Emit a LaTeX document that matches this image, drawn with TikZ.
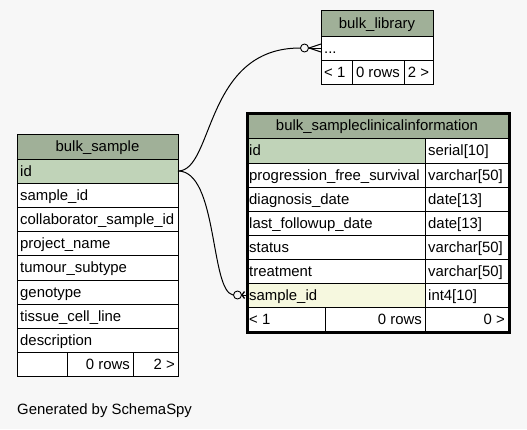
\documentclass[tikz,border=0pt]{standalone}
\usepackage{fontspec}
\setmainfont{Liberation Sans}
\definecolor{bgc}{HTML}{F7F7F7}
\definecolor{hdr}{HTML}{A0B098}
\definecolor{pk}{HTML}{C0D3B8}
\definecolor{fk}{HTML}{F6F8DF}
\tikzset{
  cell/.style={draw=black,line width=1pt,inner sep=0pt,outer sep=0pt},
  txt/.style={font=\fontsize{14.9}{16}\selectfont,inner sep=0pt,text height=10.8pt,text depth=0.4pt},
  tp-west/.style={anchor=west,xshift=3pt},
  tp-east/.style={anchor=east,xshift=-3pt},
  tp-center/.style={anchor=center},
  circ/.style={draw=black,line width=0.9pt,circle,minimum size=8pt,inner sep=0pt,fill=bgc},
  conn/.style={draw=black,line width=1pt},
}
\newcommand{\tcell}[8]{%
  \node[cell,fill=#6,minimum width={#4pt-#2pt},minimum height={#5pt-#3pt},anchor=north west] (#1) at (#2,#3) {};
  \node[txt,tp-#7] (#1-t) at (#1.#7) {#8};}
\begin{document}
\begin{tikzpicture}[x=1pt,y=-1pt]
\fill[bgc] (0,0) rectangle (527,429);
\useasboundingbox (0,0) rectangle (527,429);
% bulk_library
\tcell{blh}{321}{10.5}{433}{36}{hdr}{center}{bulk\_library}
\tcell{blr}{321}{36}{433}{60}{white}{west}{...}
\tcell{blf1}{321}{60}{352}{84}{white}{west}{< 1}
\tcell{blf2}{352}{60}{404}{84}{white}{center}{0 rows}
\tcell{blf3}{404}{60}{433}{84}{white}{center}{2 >}
% bulk_sample
\tcell{bsh}{17}{134}{178}{159}{hdr}{center}{bulk\_sample}
\tcell{bsid}{17}{159}{178}{183}{pk}{west}{id}
\tcell{bs2}{17}{183}{178}{207}{white}{west}{sample\_id}
\tcell{bs3}{17}{207}{178}{231}{white}{west}{collaborator\_sample\_id}
\tcell{bs4}{17}{231}{178}{255}{white}{west}{project\_name}
\tcell{bs5}{17}{255}{178}{280}{white}{west}{tumour\_subtype}
\tcell{bs6}{17}{280}{178}{304}{white}{west}{genotype}
\tcell{bs7}{17}{304}{178}{328}{white}{west}{tissue\_cell\_line}
\tcell{bs8}{17}{328}{178}{352}{white}{west}{description}
\tcell{bsf1}{17}{352}{67}{376}{white}{west}{}
\tcell{bsf2}{67}{352}{133}{376}{white}{east}{0 rows}
\tcell{bsf3}{133}{352}{178}{376}{white}{east}{2 >}
% bulk_sampleclinicalinformation
\tcell{sch}{246}{112}{508}{138}{hdr}{center}{bulk\_sampleclinicalinformation}
\tcell{sc1a}{246}{138}{425}{163}{pk}{west}{id}
\tcell{sc1b}{425}{138}{508}{163}{white}{west}{serial[10]}
\tcell{sc2a}{246}{163}{425}{187}{white}{west}{progression\_free\_survival}
\tcell{sc2b}{425}{163}{508}{187}{white}{west}{varchar[50]}
\tcell{sc3a}{246}{187}{425}{211}{white}{west}{diagnosis\_date}
\tcell{sc3b}{425}{187}{508}{211}{white}{west}{date[13]}
\tcell{sc4a}{246}{211}{425}{235}{white}{west}{last\_followup\_date}
\tcell{sc4b}{425}{211}{508}{235}{white}{west}{date[13]}
\tcell{sc5a}{246}{235}{425}{259}{white}{west}{status}
\tcell{sc5b}{425}{235}{508}{259}{white}{west}{varchar[50]}
\tcell{sc6a}{246}{259}{425}{283}{white}{west}{treatment}
\tcell{sc6b}{425}{259}{508}{283}{white}{west}{varchar[50]}
\tcell{sc7a}{246}{283}{425}{307}{fk}{west}{sample\_id}
\tcell{sc7b}{425}{283}{508}{307}{white}{west}{int4[10]}
\tcell{scf1}{246}{307}{325}{331}{white}{west}{< 1}
\tcell{scf2}{325}{307}{425}{331}{white}{east}{0 rows}
\tcell{scf3}{425}{307}{508}{331}{white}{east}{0 >}
\node[draw=black,line width=3pt,inner sep=0pt,minimum width=262pt,minimum height=219pt,anchor=north west] (scbox) at (246,112) {};
% connectors
\node[circ] (c1) at (304.5,48) {};
\node[circ] (c2) at (237.5,295) {};
\coordinate (k1) at (309,48);
\coordinate (k2) at (242,295);
\draw[conn] (bsid.east) .. controls (214,171) and (204,48) .. (c1.west);
\draw[conn] (bsid.east) .. controls (218,171) and (210,291) .. (c2.west);
\draw[conn] (c1.east) -- (blr.west);
\draw[conn] (k1) -- ([yshift=-4pt]blr.west);
\draw[conn] (k1) -- ([yshift=4pt]blr.west);
\draw[conn] (c2.east) -- (sc7a.west);
\draw[conn,line width=1.3pt] (k2) -- ([yshift=-3.5pt,xshift=-1.5pt]sc7a.west);
\draw[conn,line width=1.3pt] (k2) -- ([yshift=3.5pt,xshift=-1.5pt]sc7a.west);
\node[txt,anchor=base west] (gen) at (17,414.5) {Generated by SchemaSpy};
\end{tikzpicture}
\end{document}
